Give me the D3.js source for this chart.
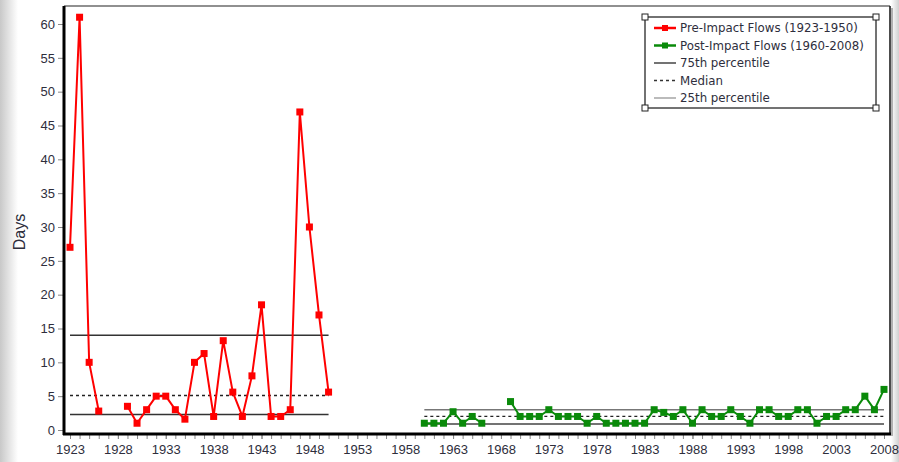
<!DOCTYPE html>
<html>
<head>
<meta charset="utf-8">
<script src="https://cdn.jsdelivr.net/npm/d3@7/dist/d3.min.js"></script>
<style>
  html, body { margin: 0; padding: 0; background: #fff; }
  svg { display: block; }
  text { font-family: "Liberation Sans", Arial, sans-serif; }
</style>
</head>
<body>
<svg id="chart" width="899" height="462"></svg>
<script>
// ---- data ----
const preYears = d3.range(1923, 1951);
const preValues = [27, 61, 10, 2.8, null, null, 3.5, 1, 3, 5, 5, 3, 1.6, 10, 11.3, 2, 13.2, 5.6, 2, 8, 18.5, 2, 2, 3, 47, 30, 17, 5.6];
const postYears = d3.range(1960, 2009);
const postValues = [1, 1, 1, 2.7, 1, 2, 1, null, null, 4.2, 2, 2, 2, 3, 2, 2, 2, 1, 2, 1, 1, 1, 1, 1, 3, 2.6, 2, 3, 1, 3, 2, 2, 3, 2, 1, 3, 3, 2, 2, 3, 3, 1, 2, 2, 3, 3, 5, 3, 6];
const prePercentiles = { p75: 14, median: 5.1, p25: 2.3 };
const postPercentiles = { p75: 3, median: 2, p25: 0.9 };
const yTicks = d3.range(0, 61, 5);
const xTickLabels = d3.range(1923, 2009, 5);
const legendLabels = ["Pre-Impact Flows (1923-1950)", "Post-Impact Flows (1960-2008)", "75th percentile", "Median", "25th percentile"];

// ---- layout ----
const svg = d3.select("#chart");
const W = 899, H = 462;
const frame = { left: 64, right: 890, top: 6, bottom: 434 };
const x = d3.scaleLinear().domain([1923, 2008]).range([70, 884]);
const y = d3.scaleLinear().domain([0, 60]).range([430, 24]);
const red = "#ff0000", green = "#0a8a0a", textCol = "#2e2e3c";

// background edge shading
const defs = svg.append("defs");
const lg = defs.append("linearGradient").attr("id", "edgeL").attr("x1", 0).attr("x2", 1);
lg.append("stop").attr("offset", 0).attr("stop-color", "#c8c8c8");
lg.append("stop").attr("offset", 1).attr("stop-color", "#ffffff");
svg.append("rect").attr("x", 0).attr("y", 0).attr("width", 18).attr("height", H).attr("fill", "url(#edgeL)");
const lr = defs.append("linearGradient").attr("id", "edgeR").attr("x1", 1).attr("x2", 0);
lr.append("stop").attr("offset", 0).attr("stop-color", "#d0d0d0");
lr.append("stop").attr("offset", 1).attr("stop-color", "#ffffff");
svg.append("rect").attr("x", 891).attr("y", 0).attr("width", 8).attr("height", H).attr("fill", "url(#edgeR)");

// plot area
svg.append("rect").attr("x", frame.left).attr("y", frame.top)
  .attr("width", frame.right - frame.left).attr("height", frame.bottom - frame.top)
  .attr("fill", "#fff");
svg.append("line").attr("x1", frame.right + 2).attr("x2", frame.right + 2)
  .attr("y1", frame.top + 2).attr("y2", frame.bottom + 2).attr("stroke", "#999").attr("stroke-width", 1.5);
svg.append("line").attr("x1", frame.right).attr("x2", frame.right)
  .attr("y1", frame.top).attr("y2", frame.bottom).attr("stroke", "#111").attr("stroke-width", 1.5);
svg.append("line").attr("x1", frame.left).attr("x2", frame.right)
  .attr("y1", frame.top).attr("y2", frame.top).attr("stroke", "#222").attr("stroke-width", 1.2);

// y axis
const yAxis = d3.axisLeft(y).tickValues(yTicks).tickSize(5).tickPadding(3);
const gy = svg.append("g").attr("transform", `translate(${frame.left - 1},0)`).call(yAxis);
gy.select(".domain").remove();
gy.selectAll(".tick line").attr("stroke", "#888");
gy.selectAll(".tick text").attr("fill", textCol).style("font-size", "13px");
svg.append("line").attr("x1", frame.left).attr("x2", frame.left)
  .attr("y1", frame.top).attr("y2", frame.bottom + 1).attr("stroke", "#000").attr("stroke-width", 3);

// x axis
const gxMinor = svg.append("g").attr("transform", `translate(0,${frame.bottom})`)
  .call(d3.axisBottom(x).tickValues(d3.range(1923, 2009)).tickSize(5).tickFormat(""));
gxMinor.select(".domain").remove();
gxMinor.selectAll(".tick line").attr("stroke", "#888");
const gx = svg.append("g").attr("transform", `translate(0,${frame.bottom})`)
  .call(d3.axisBottom(x).tickValues(xTickLabels).tickSize(5).tickPadding(6).tickFormat(d3.format("d")));
gx.select(".domain").remove();
gx.selectAll(".tick line").attr("stroke", "#888");
gx.selectAll(".tick text").attr("fill", textCol).style("font-size", "13px");
svg.append("line").attr("x1", frame.left - 1).attr("x2", frame.right + 1)
  .attr("y1", frame.bottom).attr("y2", frame.bottom).attr("stroke", "#000").attr("stroke-width", 3);

// y label
svg.append("text").attr("transform", `translate(25,${232}) rotate(-90)`)
  .attr("text-anchor", "middle").attr("fill", textCol).style("font-size", "16px").text("Days");

// percentile lines
function pctLines(p, x0, x1, c75, c25) {
  svg.append("line").attr("x1", x(x0)).attr("x2", x(x1)).attr("y1", y(p.p75)).attr("y2", y(p.p75))
    .attr("stroke", c75).attr("stroke-width", 1.5);
  svg.append("line").attr("x1", x(x0)).attr("x2", x(x1)).attr("y1", y(p.median)).attr("y2", y(p.median))
    .attr("stroke", "#222").attr("stroke-width", 1.3).attr("stroke-dasharray", "3,3");
  svg.append("line").attr("x1", x(x0)).attr("x2", x(x1)).attr("y1", y(p.p25)).attr("y2", y(p.p25))
    .attr("stroke", c25).attr("stroke-width", 1.5);
}
pctLines(prePercentiles, 1923, 1950, "#333", "#333");
pctLines(postPercentiles, 1960, 2008, "#777", "#444");

// series
function series(years, values, color) {
  const data = years.map((yr, i) => ({ yr, v: values[i] }));
  const line = d3.line().defined(d => d.v != null).x(d => x(d.yr)).y(d => y(d.v));
  svg.append("path").datum(data).attr("d", line).attr("fill", "none")
    .attr("stroke", color).attr("stroke-width", 2).attr("stroke-linejoin", "round");
  svg.append("g").selectAll("rect").data(data.filter(d => d.v != null)).join("rect")
    .attr("x", d => x(d.yr) - 3.5).attr("y", d => y(d.v) - 3.5)
    .attr("width", 7).attr("height", 7).attr("fill", color);
}
series(preYears, preValues, red);
series(postYears, postValues, green);

// legend
const L = { x0: 645, y0: 17, x1: 876, y1: 108 };
const lgG = svg.append("g");
lgG.append("rect").attr("x", L.x0).attr("y", L.y0).attr("width", L.x1 - L.x0).attr("height", L.y1 - L.y0)
  .attr("fill", "#fff").attr("stroke", "#444").attr("stroke-width", 1.5);
const rowY = [28, 45.5, 63, 80.5, 98];
legendLabels.forEach((lab, i) => {
  const yy = rowY[i];
  const sx0 = 654, sx1 = 676;
  if (i === 0 || i === 1) {
    const c = i === 0 ? red : green;
    lgG.append("line").attr("x1", sx0).attr("x2", sx1).attr("y1", yy).attr("y2", yy).attr("stroke", c).attr("stroke-width", 2.5);
    lgG.append("rect").attr("x", (sx0 + sx1) / 2 - 3).attr("y", yy - 3).attr("width", 6).attr("height", 6).attr("fill", c);
  } else if (i === 2) {
    lgG.append("line").attr("x1", sx0).attr("x2", sx1).attr("y1", yy).attr("y2", yy).attr("stroke", "#444").attr("stroke-width", 1.5);
  } else if (i === 3) {
    lgG.append("line").attr("x1", sx0).attr("x2", sx1).attr("y1", yy).attr("y2", yy).attr("stroke", "#333").attr("stroke-width", 1.5).attr("stroke-dasharray", "3,3");
  } else {
    lgG.append("line").attr("x1", sx0).attr("x2", sx1).attr("y1", yy).attr("y2", yy).attr("stroke", "#bbb").attr("stroke-width", 2);
  }
  lgG.append("text").attr("x", 680).attr("y", yy + 4).attr("fill", textCol)
    .style("font-family", "'DejaVu Sans', sans-serif").style("font-size", "11.8px").text(lab);
});
[[L.x0, L.y0], [L.x1, L.y0], [L.x0, L.y1], [L.x1, L.y1]].forEach(([hx, hy]) => {
  lgG.append("rect").attr("x", hx - 3).attr("y", hy - 3).attr("width", 6).attr("height", 6)
    .attr("fill", "#fff").attr("stroke", "#222").attr("stroke-width", 1);
});
</script>
</body>
</html>
